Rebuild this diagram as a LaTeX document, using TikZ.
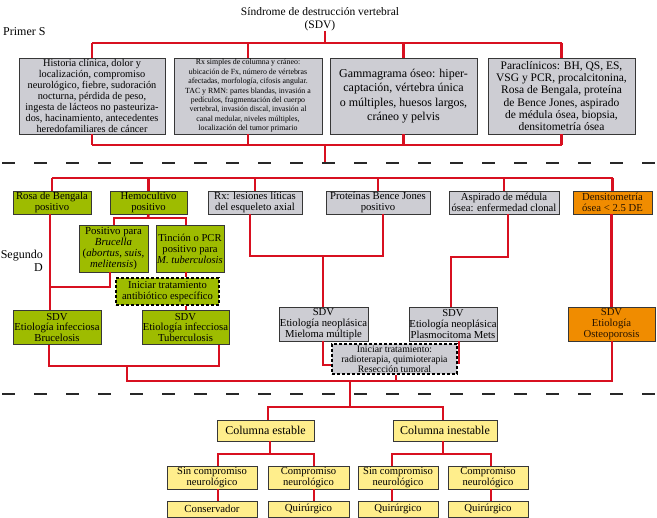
\documentclass[tikz,border=0pt]{standalone}
\usepackage{fontspec}
\setmainfont{Liberation Serif}
\definecolor{redl}{RGB}{216,16,32}
\definecolor{gfill}{RGB}{158,188,0}
\definecolor{grfill}{RGB}{205,205,211}
\definecolor{ofill}{RGB}{240,140,0}
\definecolor{yfill}{RGB}{255,238,140}
\definecolor{bord}{RGB}{55,55,55}
\definecolor{sep}{RGB}{40,40,40}
\tikzset{
  bx/.style={draw=bord, line width=0.9pt, align=center, inner sep=0pt, text=black},
  gbox/.style={bx, fill=gfill},
  grbox/.style={bx, fill=grfill},
  obox/.style={bx, fill=ofill, text={black!85!orange}},
  ybox/.style={bx, fill=yfill},
  dbox/.style={bx, draw=black, dash pattern=on 3pt off 2pt, line width=1.1pt},
  link/.style={draw=redl, line width=2.6pt},
  sepline/.style={draw=sep, line width=1.8pt, dash pattern=on 13pt off 19pt},
  lbl/.style={inner sep=0pt, align=right, font=\fontsize{12}{13}\selectfont}
}
\begin{document}
\begin{tikzpicture}[x=1pt,y=-1pt]
\useasboundingbox (0,0) rectangle (657,518);

% ---------- labels ----------
\node[inner sep=0pt, align=center, font=\fontsize{11.5}{13}\selectfont] (title) at (320,19) {Síndrome de destrucción vertebral\\(SDV)};
\node[lbl, anchor=west] (primer) at (3,32) {Primer S};
\node[lbl, anchor=east] (segundo) at (43,261) {Segundo\\D};

% ---------- section 1 ----------
\node[grbox, minimum width=146pt, minimum height=76pt, font=\fontsize{10.3}{11.1}\selectfont] (t1) at (92,96)
 {Historia clínica, dolor y\\localización, compromiso\\neurológico, fiebre, sudoración\\nocturna, pérdida de peso,\\ingesta de lácteos no pasteuriza-\\dos, hacinamiento, antecedentes\\heredofamiliares de cáncer};
\node[grbox, minimum width=148pt, minimum height=76pt, font=\fontsize{7.85}{9.4}\selectfont] (t2) at (248,96)
 {Rx simples de columna y cráneo:\\ubicación de Fx, número de vértebras\\afectadas, morfología, cifosis angular.\\TAC y RMN: partes blandas, invasión a\\pedículos, fragmentación del cuerpo\\vertebral, invasión discal, invasión al\\canal medular, niveles múltiples,\\localización del tumor primario};
\node[grbox, minimum width=147pt, minimum height=76pt, font=\fontsize{12}{14.4}\selectfont] (t3) at (403.5,96)
 {Gammagrama óseo: hiper-\\captación, vértebra única\\o múltiples, huesos largos,\\cráneo y pelvis};
\node[grbox, minimum width=147pt, minimum height=76pt, font=\fontsize{11.5}{12.3}\selectfont] (t4) at (561.5,96)
 {Paraclínicos: BH, QS, ES,\\VSG y PCR, procalcitonina,\\Rosa de Bengala, proteína\\de Bence Jones, aspirado\\de médula ósea, biopsia,\\densitometría ósea};

\coordinate (topbus) at (325,43);
\coordinate (botbus) at (325,145);
\coordinate (sep1) at (325,163);
\draw[link] (title.south -| topbus) -- (topbus);
\draw[link] (t1.north |- topbus) -- (t4.north |- topbus);
\foreach \n in {t1,t2,t3,t4}{
  \draw[link] (\n.north |- topbus) -- (\n.north);
  \draw[link] (\n.south) -- (\n.south |- botbus);
}
\draw[link] (t1.south |- botbus) -- (t4.south |- botbus);
\draw[link] (botbus) -- (sep1);

% separators
\coordinate (s1a) at (2,163);
\coordinate (s1b) at (657,163);
\coordinate (s2a) at (2,394);
\coordinate (s2b) at (657,394);
\draw[sepline] (s1a) -- (s1b);
\draw[sepline] (s2a) -- (s2b);

% ---------- section 2 ----------
\tikzset{row2/.style={minimum height=23pt, font=\fontsize{10.7}{10.8}\selectfont},
  sdv/.style={minimum height=34pt, font=\fontsize{10.7}{10.6}\selectfont}}
\node[gbox, row2, minimum width=78pt] (rosa) at (52,202.5) {Rosa de Bengala\\positivo};
\node[gbox, row2, minimum width=77pt] (hemo) at (148.5,202.5) {Hemocultivo\\positivo};
\node[grbox, row2, minimum width=94pt] (rx) at (255,202.5) {Rx: lesiones líticas\\del esqueleto axial};
\node[grbox, row2, minimum width=104pt] (prot) at (378,202.5) {Proteínas Bence Jones\\positivo};
\node[grbox, row2, minimum width=110pt] (asp) at (504,202.5) {Aspirado de médula\\ósea: enfermedad clonal};
\node[obox, row2, minimum width=79pt] (dens) at (612.5,202.5) {Densitometría\\ósea < 2.5 DE};

\coordinate (bus2) at (0,178);
\draw[link] (rosa.north |- bus2) -- (dens.north |- bus2);
\foreach \n in {rosa,hemo,rx,prot,asp,dens}{
  \draw[link] (\n.north |- bus2) -- (\n.north);
}

\node[gbox, minimum width=69pt, minimum height=47pt, font=\fontsize{10.8}{11}\selectfont] (bru) at (113.5,248.5)
 {Positivo para\\\textit{Brucella}\\(\textit{abortus, suis,}\\\textit{melitensis})};
\node[gbox, minimum width=68pt, minimum height=47pt, font=\fontsize{10.6}{11}\selectfont] (tin) at (190,248.5)
 {Tinción o PCR\\positivo para\\\textit{M. tuberculosis}};
\coordinate (hbus) at (148,218);
\coordinate (hb1) at (114,218);
\coordinate (hb2) at (186,218);
\draw[link] (hemo.south) -- (hbus);
\draw[link] (bru.north -| hb1) -- (hb1) -- (hb2) -- (tin.north -| hb2);

\node[gbox, dbox, minimum width=103pt, minimum height=27pt, font=\fontsize{10.6}{11.5}\selectfont] (ini1) at (167.5,291.5)
 {Iniciar tratamiento\\antibiótico específico};
\node[gbox, sdv, minimum width=88pt] (bruc) at (57,327.5)
 {SDV\\Etiología infecciosa\\Brucelosis};
\node[gbox, sdv, minimum width=87pt] (tub) at (185.5,327.5)
 {SDV\\Etiología infecciosa\\Tuberculosis};

\coordinate (xr) at (50,0);
\coordinate (xt) at (186,0);
\draw[link] (rosa.south -| xr) -- (bruc.north -| xr);
\coordinate (bruel) at (110,287);
\draw[link] (bru.south -| bruel) -- (bruel) -- (bruel -| xr);
\draw[link] (tin.south -| xt) -- (ini1.north -| xt);
\draw[link] (ini1.south -| xt) -- (tub.north -| xt);

\node[grbox, sdv, minimum width=89pt] (mie) at (323.5,324)
 {SDV\\Etiología neoplásica\\Mieloma múltiple};
\node[grbox, sdv, minimum width=88pt] (pla) at (453,324)
 {SDV\\Etiología neoplásica\\Plasmocitoma Mets};
\node[obox, sdv, minimum width=87pt] (ost) at (611.5,324)
 {SDV\\Etiología\\Osteoporosis};
\node[grbox, dbox, minimum width=125pt, minimum height=30pt, font=\fontsize{9.8}{10}\selectfont] (ini2) at (394.5,359)
 {Iniciar tratamiento:\\radioterapia, quimioterapia\\Resección tumoral};

\coordinate (rxb) at (250,256);
\coordinate (prb) at (383,256);
\coordinate (mx) at (323,256);
\draw[link] (rx.south -| rxb) -- (rxb) -- (prb) -- (prot.south -| prb);
\draw[link] (mx) -- (mie.north -| mx);
\coordinate (asb) at (508,257);
\coordinate (plb) at (451,257);
\draw[link] (asp.south -| asb) -- (asb) -- (plb) -- (pla.north -| plb);
\draw[link] (dens.south -| ost.north) -- (ost.north);

\coordinate (mel) at (323,365);
\coordinate (pel) at (459,363);
\draw[link] (mie.south -| mel) -- (mel) -- (ini2.west |- mel);
\draw[link] (pla.south -| pel) -- (pel) -- (ini2.east |- pel);

% lower buses
\coordinate (ib1) at (49,366);
\coordinate (ib2) at (219,366);
\coordinate (im) at (127,366);
\coordinate (lb) at (127,381);
\coordinate (lbo) at (612,381);
\coordinate (ix) at (396,381);
\coordinate (dm) at (350,381);
\coordinate (db) at (350,407);
\draw[link] (bruc.south -| ib1) -- (ib1) -- (ib2) -- (tub.south -| ib2);
\draw[link] (im) -- (lb) -- (lbo) -- (ost.south -| lbo);
\draw[link] (ini2.south -| ix) -- (ix);

% ---------- section 3 ----------
\tikzset{cbox/.style={ybox, minimum height=21pt, font=\fontsize{12}{12}\selectfont},
  nbox/.style={ybox, minimum height=23pt, font=\fontsize{10.6}{11}\selectfont},
  lbox/.style={ybox, minimum height=16pt, font=\fontsize{10.8}{11}\selectfont}}
\node[cbox, minimum width=97pt] (ce) at (265.5,430.5) {Columna estable};
\node[cbox, minimum width=104pt] (ci) at (445,430.5) {Columna inestable};
\node[nbox, minimum width=90pt] (n1) at (212,477.5) {Sin compromiso\\neurológico};
\node[nbox, minimum width=81pt] (n2) at (308.5,477.5) {Compromiso\\neurológico};
\node[nbox, minimum width=80pt] (n3) at (398,477.5) {Sin compromiso\\neurológico};
\node[nbox, minimum width=80pt] (n4) at (488,477.5) {Compromiso\\neurológico};
\node[lbox, minimum width=90pt] (l1) at (212,509) {Conservador};
\node[lbox, minimum width=81pt] (l2) at (308.5,509) {Quirúrgico};
\node[lbox, minimum width=80pt] (l3) at (398,509) {Quirúrgico};
\node[lbox, minimum width=80pt] (l4) at (488,509) {Quirúrgico};

\coordinate (ceb) at (268,407);
\coordinate (cib) at (443,407);
\draw[link] (dm) -- (db);
\draw[link] (ce.north -| ceb) -- (ceb) -- (cib) -- (ci.north -| cib);

\coordinate (e1) at (218,454);
\coordinate (e2) at (314,454);
\coordinate (ec) at (270,454);
\coordinate (f1) at (392,454);
\coordinate (f2) at (491,454);
\coordinate (fc) at (443,454);
\draw[link] (ce.south -| ec) -- (ec);
\draw[link] (ci.south -| fc) -- (fc);
\draw[link] (n1.north -| e1) -- (e1) -- (e2) -- (n2.north -| e2);
\draw[link] (n3.north -| f1) -- (f1) -- (f2) -- (n4.north -| f2);
\draw[link] (n1.south -| e1) -- (l1.north -| e1);
\draw[link] (n2.south -| e2) -- (l2.north -| e2);
\draw[link] (n3.south -| f1) -- (l3.north -| f1);
\draw[link] (n4.south -| f2) -- (l4.north -| f2);
\end{tikzpicture}
\end{document}
